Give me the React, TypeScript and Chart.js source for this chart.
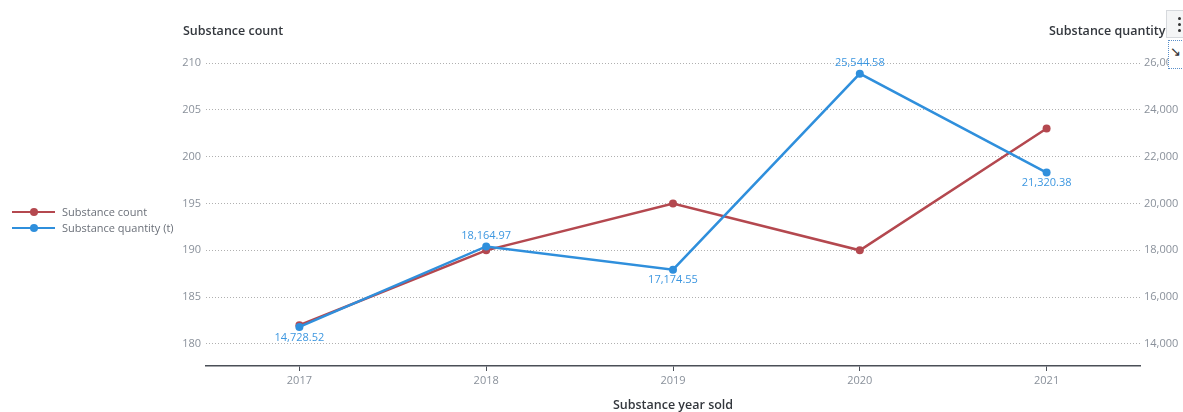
import React, { useEffect, useRef } from "react";
import { Chart, registerables } from "chart.js";

Chart.register(...registerables);

const years = ["2017", "2018", "2019", "2020", "2021"];
const substanceCount = [182, 190, 195, 190, 203];
const substanceQuantity = [14728.52, 18164.97, 17174.55, 25544.58, 21320.38];
const quantityLabelSide = ["below", "above", "below", "above", "below"];
const countTicks = [180, 185, 190, 195, 200, 205, 210];
const quantityTicks = [14000, 16000, 18000, 20000, 22000, 24000, 26000];

const RED = "#b4484f";
const BLUE = "#2f8fdc";
const FONT = "'Open Sans', 'Noto Sans', sans-serif";

const dataLabelPlugin = {
  id: "qtyLabels",
  afterDatasetsDraw(chart: any) {
    const meta = chart.getDatasetMeta(1);
    const ctx = chart.ctx;
    ctx.save();
    ctx.font = `11px ${FONT}`;
    ctx.fillStyle = "#3d97e0";
    ctx.textAlign = "center";
    ctx.textBaseline = "middle";
    meta.data.forEach((pt: any, i: number) => {
      const v = substanceQuantity[i];
      const txt = v.toLocaleString("en-US", { minimumFractionDigits: 2, maximumFractionDigits: 2 });
      const dy = quantityLabelSide[i] === "above" ? -11 : 10.5;
      ctx.fillText(txt, pt.x, pt.y + dy);
    });
    ctx.restore();
  },
};

export default function App() {
  const ref = useRef<HTMLCanvasElement | null>(null);

  useEffect(() => {
    if (!ref.current) return;
    const chart = new Chart(ref.current, {
      type: "line",
      data: {
        labels: years,
        datasets: [
          {
            label: "Substance count",
            data: substanceCount,
            borderColor: RED,
            backgroundColor: RED,
            borderWidth: 2.5,
            pointRadius: 4,
            pointBackgroundColor: RED,
            pointBorderWidth: 0,
            yAxisID: "y",
            order: 1,
            tension: 0,
          },
          {
            label: "Substance quantity (t)",
            data: substanceQuantity,
            borderColor: BLUE,
            backgroundColor: BLUE,
            borderWidth: 2.5,
            pointRadius: 4,
            pointBackgroundColor: BLUE,
            pointBorderWidth: 0,
            yAxisID: "y1",
            order: 0,
            tension: 0,
          },
        ],
      },
      options: {
        responsive: false,
        animation: false,
        layout: { padding: { left: 150, top: 63, right: 0, bottom: 0 } },
        plugins: {
          legend: { display: false },
          tooltip: { enabled: false },
          title: { display: false },
        },
        scales: {
          x: {
            type: "category",
            offset: true,
            grid: { drawOnChartArea: false, drawTicks: true, tickLength: 5, color: "#4a4f57" },
            border: { display: true, color: "#4a4f57", width: 1.5 },
            ticks: { color: "#8a919b", font: { family: FONT, size: 11 }, padding: 3 },
            afterFit: (s: any) => { s.height = 46; },
          },
          y: {
            type: "linear",
            position: "left",
            min: 177.65,
            max: 210,
            border: { display: false, dash: [1, 2] },
            grid: { color: "#b0b0b0", drawTicks: false, lineWidth: 1 },
            ticks: { color: "#8a919b", font: { family: FONT, size: 11 }, padding: 5 },
            afterBuildTicks: (s: any) => { s.ticks = countTicks.map((v) => ({ value: v })); },
            afterFit: (s: any) => { s.width = 56; },
          },
          y1: {
            type: "linear",
            position: "right",
            min: 13060,
            max: 26000,
            border: { display: false },
            grid: { display: false, drawOnChartArea: false, drawTicks: false },
            ticks: {
              color: "#8a919b",
              font: { family: FONT, size: 11 },
              padding: 4,
              callback: (v: any) => Number(v).toLocaleString("en-US"),
            },
            afterBuildTicks: (s: any) => { s.ticks = quantityTicks.map((v) => ({ value: v })); },
            afterFit: (s: any) => { s.width = 60; },
          },
        },
      } as any,
      plugins: [dataLabelPlugin],
    });
    return () => chart.destroy();
  }, []);

  const titleStyle: React.CSSProperties = {
    position: "absolute",
    font: `600 12.5px ${FONT}`,
    color: "#33373d",
    whiteSpace: "nowrap",
    lineHeight: "16px",
  };
  const legendText: React.CSSProperties = {
    position: "absolute",
    left: 62,
    font: `11px ${FONT}`,
    color: "#6b7079",
    whiteSpace: "nowrap",
    lineHeight: "14px",
  };

  const legendItem = (color: string, y: number, text: string) => (
    <>
      <div style={{ position: "absolute", left: 12, top: y - 1.25, width: 43, height: 2.5, background: color }} />
      <div style={{ position: "absolute", left: 30, top: y - 4, width: 8, height: 8, borderRadius: 4, background: color }} />
      <div style={{ ...legendText, top: y - 7 }}>{text}</div>
    </>
  );

  return (
    <div style={{ position: "fixed", left: 0, top: 0, width: 1183, height: 412, overflow: "hidden", background: "#fff" }}>
      <canvas ref={ref} width={1200} height={412} style={{ position: "absolute", left: 0, top: 0, width: 1200, height: 412 }} />
      <div style={{ ...titleStyle, left: 183, top: 23 }}>Substance count</div>
      <div style={{ ...titleStyle, left: 1049, top: 23 }}>Substance quantity (t)</div>
      <div style={{ ...titleStyle, left: 673, top: 397, transform: "translateX(-50%)" }}>Substance year sold</div>
      {legendItem(RED, 212, "Substance count")}
      {legendItem(BLUE, 228, "Substance quantity (t)")}
      <div style={{ position: "absolute", left: 1166, top: 10, width: 20, height: 28, background: "#f4f5f6", border: "1px solid #d6d9dd", boxSizing: "border-box" }}>
        <div style={{ position: "absolute", left: 11, top: 6, width: 3, height: 3, borderRadius: 2, background: "#333" }} />
        <div style={{ position: "absolute", left: 11, top: 12, width: 3, height: 3, borderRadius: 2, background: "#333" }} />
        <div style={{ position: "absolute", left: 11, top: 18, width: 3, height: 3, borderRadius: 2, background: "#333" }} />
      </div>
      <div style={{ position: "absolute", left: 1168, top: 40, width: 20, height: 29, background: "#fff", border: "1px dotted #5a8fc9", boxSizing: "border-box" }}>
        <div style={{ position: "absolute", left: 1, top: 1, font: `13px ${FONT}`, color: "#333" }}>↘</div>
      </div>
    </div>
  );
}
